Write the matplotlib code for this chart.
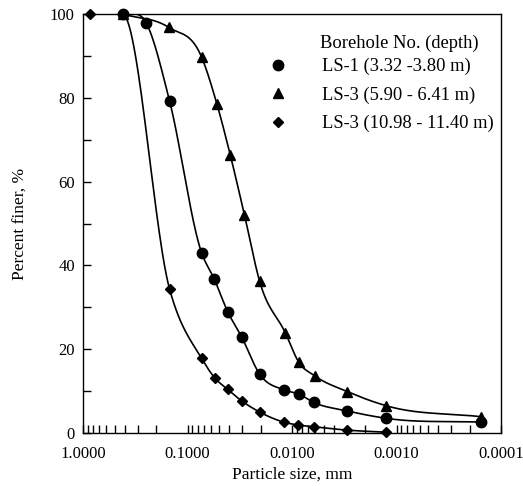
import numpy as np
import matplotlib
matplotlib.use('Agg')
import matplotlib.pyplot as plt
from matplotlib.ticker import FixedLocator, LogLocator, MultipleLocator, NullFormatter

plt.rcParams['font.family'] = ['Liberation Serif', 'DejaVu Serif']

# LS-1 (3.32 - 3.80 m)
size_ls1 = [0.42, 0.249, 0.149, 0.0734, 0.0555, 0.0414, 0.0305, 0.0205,
            0.012, 0.00863, 0.0062, 0.003, 0.00125, 0.000156]
finer_ls1 = [100, 97.9, 79.3, 43.0, 36.7, 29.0, 23.0, 14.1,
             10.3, 9.3, 7.3, 5.3, 3.5, 2.6]

# LS-3 (5.90 - 6.41 m)
size_ls3a = [0.42, 0.151, 0.0734, 0.0524, 0.039, 0.0286, 0.0205, 0.0116,
             0.00863, 0.0061, 0.00297, 0.00125, 0.000156]
finer_ls3a = [100, 96.8, 89.7, 78.5, 66.3, 52.1, 36.3, 23.9,
              16.9, 13.7, 9.9, 6.5, 3.9]

# LS-3 (10.98 - 11.40 m)
size_ls3b = [0.857, 0.42, 0.149, 0.0734, 0.0552, 0.0412, 0.0305, 0.0204,
             0.012, 0.0087, 0.0062, 0.003, 0.00126]
finer_ls3b = [100, 100, 34.4, 17.8, 13.2, 10.4, 7.7, 5.0,
              2.6, 1.9, 1.5, 0.7, 0.2]

labels = ['LS-1 (3.32 -3.80 m)', 'LS-3 (5.90 - 6.41 m)', 'LS-3 (10.98 - 11.40 m)']
markers = ['o', '^', 'D']
msizes = [7.5, 7.5, 5.5]


# cubic Hermite in log-size, slopes = mean of neighbour secants (zero where flat)
def smooth(xs, ys, n=400):
    t = -np.log10(np.asarray(xs, float))
    y = np.asarray(ys, float)
    h = np.diff(t)
    d = np.diff(y) / h
    m = np.zeros_like(y)
    m[0], m[-1] = d[0], d[-1]
    for k in range(1, len(y) - 1):
        if d[k - 1] * d[k] > 0:
            m[k] = (h[k] * d[k - 1] + h[k - 1] * d[k]) / (h[k] + h[k - 1])
    if d[0] == 0:
        m[0] = 0
    tt = np.linspace(t[0], t[-1], n)
    idx = np.clip(np.searchsorted(t, tt) - 1, 0, len(h) - 1)
    s = (tt - t[idx]) / h[idx]
    h00 = 2 * s**3 - 3 * s**2 + 1
    h10 = s**3 - 2 * s**2 + s
    h01 = -2 * s**3 + 3 * s**2
    h11 = s**3 - s**2
    yy = h00 * y[idx] + h10 * h[idx] * m[idx] + h01 * y[idx + 1] + h11 * h[idx] * m[idx + 1]
    return 10 ** (-tt), np.minimum(yy, 100)


fig = plt.figure(figsize=(5.23, 4.86), dpi=100)
ax = fig.add_axes([0.159, 0.109, 0.799, 0.862])

series = [(size_ls1, finer_ls1), (size_ls3a, finer_ls3a), (size_ls3b, finer_ls3b)]
for i in [2, 1, 0]:
    xs, ys = series[i]
    sx, sy = smooth(xs, ys)
    ax.plot(sx, sy, color='black', lw=1.2, zorder=2)
    ax.plot(xs, ys, linestyle='none', marker=markers[i], markersize=msizes[i],
            color='black', label=labels[i], zorder=3 + (2 - i), clip_on=False)

ax.set_xscale('log')
ax.set_xlim(1.0, 0.0001)
ax.set_ylim(0, 100)

ax.xaxis.set_major_locator(FixedLocator([1.0, 0.1, 0.01, 0.001, 0.0001]))
ax.xaxis.set_major_formatter(plt.FuncFormatter(lambda v, p: '%.4f' % v))
ax.xaxis.set_minor_locator(LogLocator(base=10, subs=np.arange(2, 10)))
ax.xaxis.set_minor_formatter(NullFormatter())
ax.yaxis.set_major_locator(MultipleLocator(20))
ax.yaxis.set_minor_locator(MultipleLocator(10))

ax.tick_params(axis='both', which='both', direction='in', length=6, width=1,
               labelsize=12, top=False, right=False)
ax.tick_params(axis='x', pad=9.5)
ax.tick_params(axis='y', pad=6)
for sp in ax.spines.values():
    sp.set_linewidth(1)

ax.set_xlabel('Particle size, mm', fontsize=12.5, labelpad=3)
ax.set_ylabel('Percent finer, %', fontsize=12.5, labelpad=15)

ax.text(0.567, 0.931, 'Borehole No. (depth)', transform=ax.transAxes,
        fontsize=13.3, ha='left', va='center')
handles, labs = ax.get_legend_handles_labels()
leg = ax.legend(handles[::-1], labs[::-1], loc='upper left',
                bbox_to_anchor=(0.443, 0.895), frameon=False,
                fontsize=13.3, handletextpad=1.9, labelspacing=0.6,
                handlelength=1.0, borderpad=0, borderaxespad=0)

fig.savefig('out.png', dpi=100)
